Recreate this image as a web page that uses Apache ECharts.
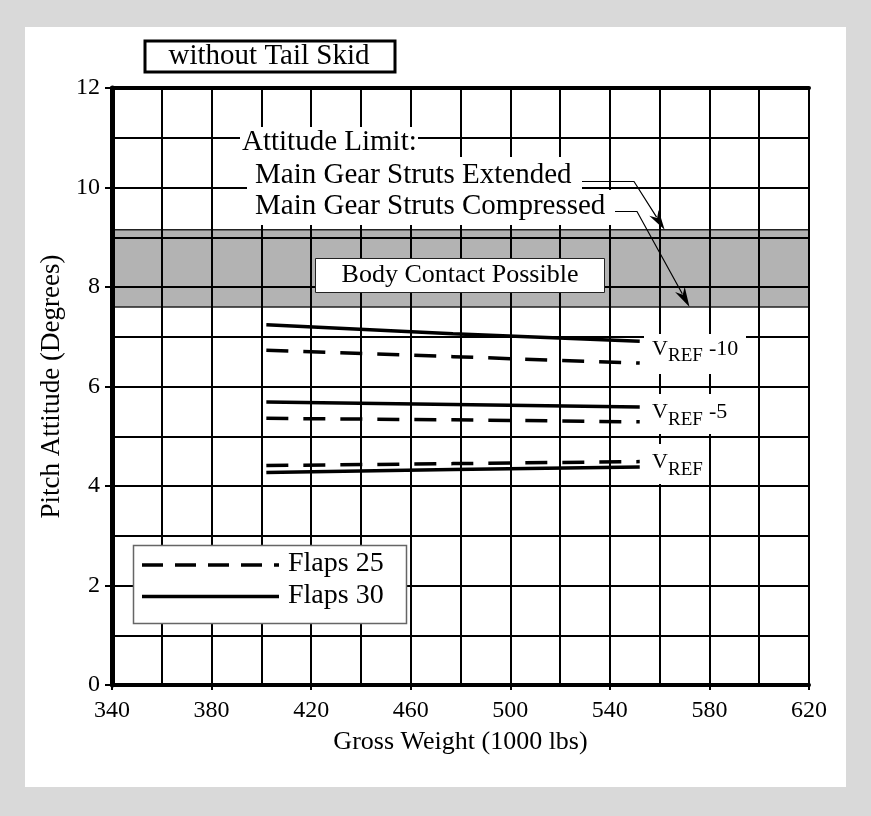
<!DOCTYPE html>
<html><head><meta charset="utf-8">
<script src="https://cdn.jsdelivr.net/npm/echarts@6/dist/echarts.min.js"></script>
<style>
html,body{margin:0;padding:0;background:#d9d9d9;}
#panel{position:absolute;left:25px;top:27px;width:821px;height:760px;background:#fff;}
#chart{position:absolute;left:0;top:0;width:871px;height:816px;}
</style></head><body>
<div id="panel"></div><div id="chart"></div>
<script>
// ---- data ----
const weights = [402, 477, 552];
const vref10Flaps30 = [7.24, 7.06, 6.91];
const vref10Flaps25 = [6.73, 6.60, 6.47];
const vref5Flaps30 = [5.69, 5.64, 5.59];
const vref5Flaps25 = [5.36, 5.33, 5.29];
const vrefFlaps25 = [4.41, 4.45, 4.49];
const vrefFlaps30 = [4.27, 4.33, 4.38];
const xTickLabels = [340, 380, 420, 460, 500, 540, 580, 620];
const yTickLabels = [0, 2, 4, 6, 8, 10, 12];
const limitExtended = 9.15;   // top of shaded band
const limitCompressed = 7.6;  // bottom of shaded band

const FONT = "'Liberation Serif','Times New Roman',serif";
const DASH = [22, 15];

function pairs(xs, ys) { return xs.map((x, i) => [x, ys[i]]); }
function lineSeries(name, ys, dashed) {
  return {
    name: name, type: 'line', data: pairs(weights, ys), symbol: 'none', silent: true,
    lineStyle: { color: '#000', width: 3.5, type: dashed ? DASH : 'solid' }, z: 3
  };
}

const chart = echarts.init(document.getElementById('chart'), null, { renderer: 'canvas' });
const gridLine = { show: true, lineStyle: { color: '#000', width: 2 } };
chart.setOption({
  backgroundColor: 'transparent',
  animation: false,
  grid: { left: 112, top: 88, width: 697, height: 597, containLabel: false },
  xAxis: [{
    type: 'value', min: xTickLabels[0], max: xTickLabels[xTickLabels.length - 1], interval: 40,
    name: 'Gross Weight (1000 lbs)', nameLocation: 'middle', nameGap: 44,
    nameTextStyle: { fontFamily: FONT, fontSize: 26, color: '#000' },
    axisLine: { show: true, onZero: false, lineStyle: { color: '#000', width: 4 } },
    axisTick: { show: true, inside: false, length: 5, lineStyle: { color: '#000', width: 2 } },
    axisLabel: { fontFamily: FONT, fontSize: 24, color: '#000', margin: 14 },
    splitLine: gridLine,
    minorTick: { show: false, splitNumber: 2 },
    minorSplitLine: gridLine
  }, {
    type: 'value', position: 'top', min: xTickLabels[0], max: xTickLabels[xTickLabels.length - 1], interval: 40,
    axisLine: { show: true, onZero: false, lineStyle: { color: '#000', width: 4 } },
    axisTick: { show: false }, axisLabel: { show: false }, splitLine: { show: false }
  }],
  yAxis: {
    type: 'value', min: yTickLabels[0], max: yTickLabels[yTickLabels.length - 1], interval: 2,
    name: 'Pitch Attitude (Degrees)', nameLocation: 'middle', nameGap: 42,
    nameTextStyle: { fontFamily: FONT, fontSize: 27, color: '#000' },
    axisLine: { show: true, onZero: false, lineStyle: { color: '#000', width: 5 } },
    axisTick: { show: true, length: 7, lineStyle: { color: '#000', width: 2 } },
    axisLabel: { fontFamily: FONT, fontSize: 24, color: '#000', margin: 12 },
    splitLine: gridLine,
    minorTick: { show: false, splitNumber: 2 },
    minorSplitLine: gridLine
  },
  series: [
    {
      name: 'band', type: 'line', data: [], silent: true, z: -1,
      markArea: {
        silent: true, z: -1,
        itemStyle: { color: '#b3b3b3', borderColor: '#222', borderWidth: 1.5 },
        data: [[{ coord: [xTickLabels[0], limitCompressed] }, { coord: [xTickLabels[xTickLabels.length - 1], limitExtended] }]]
      }
    },
    lineSeries('VREF-10 Flaps 30', vref10Flaps30, false),
    lineSeries('VREF-10 Flaps 25', vref10Flaps25, true),
    lineSeries('VREF-5 Flaps 30', vref5Flaps30, false),
    lineSeries('VREF-5 Flaps 25', vref5Flaps25, true),
    lineSeries('VREF Flaps 25', vrefFlaps25, true),
    lineSeries('VREF Flaps 30', vrefFlaps30, false)
  ]
});

// ---- annotations ----
function txt(x, y, text, size, align) {
  return { type: 'text', x: x, y: y, z: 20, silent: true,
    style: { text: text, font: size + 'px ' + FONT, fill: '#000', align: align || 'left', verticalAlign: 'middle' } };
}
function whiteRect(x, y, w, h) {
  return { type: 'rect', z: 15, silent: true, shape: { x: x, y: y, width: w, height: h }, style: { fill: '#fff' } };
}
function arrow(points, tip) {
  const p0 = points[points.length - 1];
  const dx = tip[0] - p0[0], dy = tip[1] - p0[1];
  const len = Math.sqrt(dx * dx + dy * dy);
  const ux = dx / len, uy = dy / len;
  const L = 20, W = 5.5;
  const bx = tip[0] - ux * L, by = tip[1] - uy * L;
  const nx = -uy, ny = ux;
  return [
    { type: 'polyline', z: 20, silent: true, shape: { points: points.concat([[bx + ux * 5, by + uy * 5]]) },
      style: { stroke: '#000', lineWidth: 1.2, fill: null } },
    { type: 'polygon', z: 20, silent: true,
      shape: { points: [tip, [bx + nx * W, by + ny * W], [bx + ux * 6, by + uy * 6], [bx - nx * W, by - ny * W]] },
      style: { fill: '#000' } }
  ];
}
const tipExt = chart.convertToPixel({ gridIndex: 0 }, [562, limitExtended]);
const tipComp = chart.convertToPixel({ gridIndex: 0 }, [572, limitCompressed]);

function vrefLabel(x, yc, suffix, box) {
  const els = [whiteRect(box[0], box[1], box[2], box[3])];
  els.push(txt(x, yc, 'V', 22));
  els.push(txt(x + 16, yc + 7.5, 'REF', 19));
  if (suffix) els.push(txt(x + 57, yc, suffix, 22));
  return els;
}

const graphics = [
  // title box
  { type: 'rect', z: 15, silent: true, shape: { x: 145, y: 41, width: 250, height: 31 },
    style: { fill: '#fff', stroke: '#000', lineWidth: 3 } },
  txt(269, 56.5, 'without Tail Skid', 29, 'center'),
  // attitude limit text block
  whiteRect(240, 127, 178, 30),
  whiteRect(247, 157, 335, 33),
  whiteRect(247, 190, 364, 35),
  txt(242, 142, 'Attitude Limit:', 29),
  txt(255, 175, 'Main Gear Struts Extended', 29),
  txt(255, 206.5, 'Main Gear Struts Compressed', 29),
  // body contact box
  { type: 'rect', z: 15, silent: true, shape: { x: 315.5, y: 258.5, width: 289, height: 34 },
    style: { fill: '#fff', stroke: '#222', lineWidth: 1 } },
  txt(460, 275, 'Body Contact Possible', 26, 'center'),
  // legend
  { type: 'rect', z: 15, silent: true, shape: { x: 133.5, y: 545.5, width: 273, height: 78 },
    style: { fill: '#fff', stroke: '#666', lineWidth: 1.5 } },
  { type: 'line', z: 20, silent: true, shape: { x1: 142, y1: 565, x2: 279, y2: 565 },
    style: { stroke: '#000', lineWidth: 3.5, lineDash: [21, 12] } },
  { type: 'line', z: 20, silent: true, shape: { x1: 142, y1: 596.5, x2: 279, y2: 596.5 },
    style: { stroke: '#000', lineWidth: 3.5 } },
  txt(288, 564, 'Flaps 25', 28),
  txt(288, 596, 'Flaps 30', 28)
]
  .concat(arrow([[582, 181.5], [634, 181.5]], tipExt))
  .concat(arrow([[615, 211.5], [637, 211.5]], tipComp))
  .concat(vrefLabel(652, 349, '-10', [644, 334, 102, 40]))
  .concat(vrefLabel(652, 412.5, '-5', [644, 394, 88, 40]))
  .concat(vrefLabel(652, 462.5, '', [644, 444, 62, 40]));

chart.setOption({ graphic: graphics });
</script>
</body></html>
